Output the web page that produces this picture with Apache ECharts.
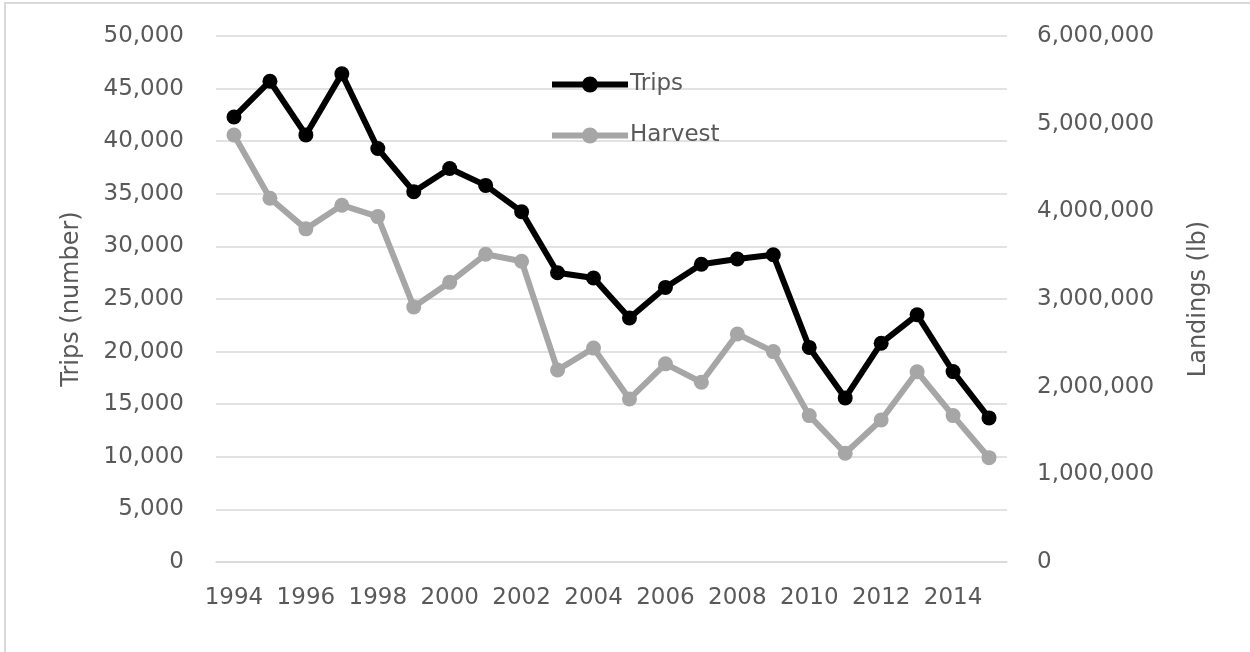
<!DOCTYPE html>
<html>
<head>
<meta charset="utf-8">
<script src="https://cdn.jsdelivr.net/npm/echarts@6/dist/echarts.min.js"></script>
<style>
html,body{margin:0;padding:0;background:#fff;}
#chart{width:1250px;height:652px;}
</style>
</head>
<body>
<div id="chart"></div>
<script>
const years = ['1994','1995','1996','1997','1998','1999','2000','2001','2002','2003','2004','2005','2006','2007','2008','2009','2010','2011','2012','2013','2014','2015'];
const trips = [42300,45700,40600,46400,39300,35200,37400,35800,33300,27500,27000,23200,26100,28300,28800,29200,20400,15600,20800,23500,18100,13700];
const harvest = [4870000,4150000,3800000,4070000,3940000,2910000,3190000,3510000,3430000,2190000,2440000,1860000,2260000,2050000,2600000,2400000,1670000,1240000,1620000,2170000,1670000,1190000];
const leftTicks = {min:0, max:50000, interval:5000};
const rightTicks = {min:0, max:6000000, interval:1000000};

const FONT = 'DejaVu Sans';
const TXT = '#595959';
const GRID = '#d9d9d9';
const FS = 23;
const fmt = v => Number(v).toLocaleString('en-US');

const chart = echarts.init(document.getElementById('chart'), null, {renderer:'canvas'});
chart.setOption({
  backgroundColor:'#ffffff',
  animation:false,
  textStyle:{fontFamily:FONT},
  graphic:[{type:'rect', shape:{x:5,y:3,width:1400,height:800}, style:{fill:'none', stroke:GRID, lineWidth:2}, silent:true, z:-10}],
  grid:{left:216, right:243, top:36, bottom:90},
  legend:{
    orient:'vertical', left:544, top:68,
    itemWidth:76, itemHeight:20, itemGap:28,
    lineStyle:{width:6},
    textStyle:{color:TXT, fontSize:FS, fontFamily:FONT, padding:[0,0,0,-3]},
    data:['Trips','Harvest']
  },
  xAxis:{
    type:'category', data:years, boundaryGap:true,
    axisLine:{lineStyle:{color:GRID, width:1.5}},
    axisTick:{interval:0, length:8, lineStyle:{color:GRID, width:1.5}},
    axisLabel:{interval:1, color:TXT, fontSize:FS, fontFamily:FONT, margin:25},
    splitLine:{show:false}
  },
  yAxis:[{
    type:'value', min:leftTicks.min, max:leftTicks.max, interval:leftTicks.interval,
    name:'Trips (number)', nameLocation:'middle', nameGap:132, nameRotate:90,
    nameTextStyle:{color:TXT, fontSize:24, fontFamily:FONT},
    axisLine:{show:false}, axisTick:{show:false},
    axisLabel:{color:TXT, fontSize:FS, fontFamily:FONT, margin:32, formatter:fmt},
    splitLine:{lineStyle:{color:GRID, width:1.5}}
  },{
    type:'value', min:rightTicks.min, max:rightTicks.max, interval:rightTicks.interval,
    position:'right',
    name:'Landings (lb)', nameLocation:'middle', nameGap:180, nameRotate:90,
    nameTextStyle:{color:TXT, fontSize:24, fontFamily:FONT},
    axisLine:{show:false}, axisTick:{show:false},
    axisLabel:{color:TXT, fontSize:FS, fontFamily:FONT, margin:30, formatter:fmt},
    splitLine:{show:false}
  }],
  series:[{
    name:'Trips', type:'line', yAxisIndex:0, data:trips,
    symbol:'circle', symbolSize:15,
    lineStyle:{color:'#000000', width:6},
    itemStyle:{color:'#000000'}, z:3
  },{
    name:'Harvest', type:'line', yAxisIndex:1, data:harvest,
    symbol:'circle', symbolSize:15,
    lineStyle:{color:'#a6a6a6', width:6},
    itemStyle:{color:'#a6a6a6'}, z:2
  }]
});
</script>
</body>
</html>
